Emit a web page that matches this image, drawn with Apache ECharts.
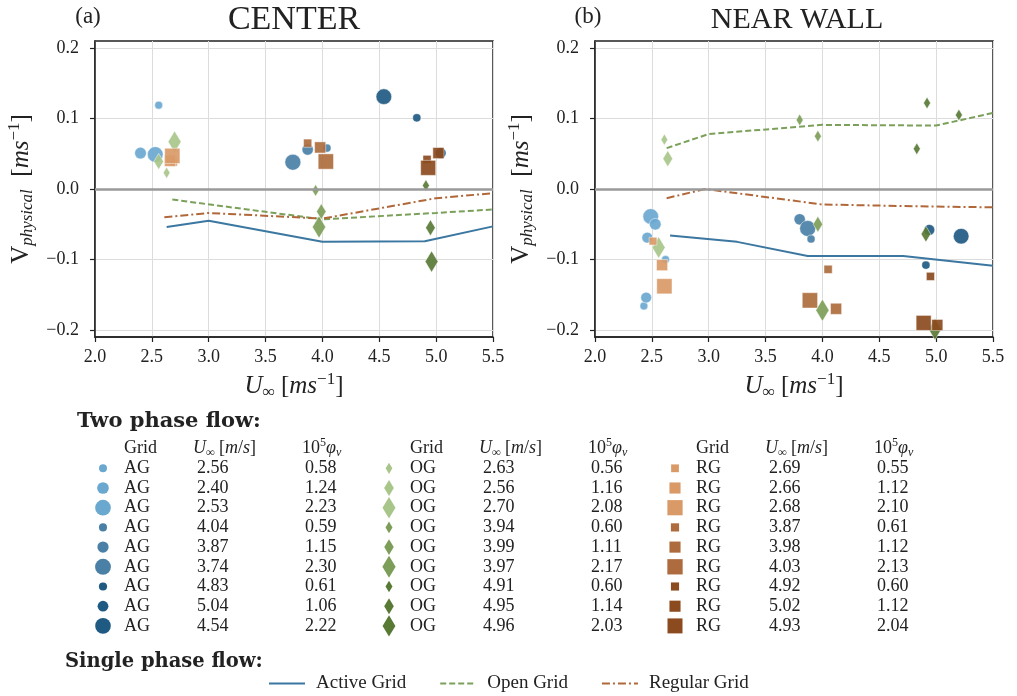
<!DOCTYPE html>
<html>
<head>
<meta charset="utf-8">
<script src="https://cdn.jsdelivr.net/npm/echarts@6/dist/echarts.min.js"></script>
<style>html,body{margin:0;padding:0;background:#fff}#main{width:1017px;height:696px}</style>
</head>
<body>
<div id="main"></div>
<script>
// velocity vs free stream speed, centre and near wall
var serif = '"Liberation Serif", "DejaVu Serif", serif';
var boldFont = '"DejaVu Serif", serif';

var yTicks = [-0.2, -0.1, 0.0, 0.1, 0.2];

// two phase flow table (U, 1e5*phi)
var agU = [2.56, 2.40, 2.53, 4.04, 3.87, 3.74, 4.83, 5.04, 4.54];
var agPhi = [0.58, 1.24, 2.23, 0.59, 1.15, 2.30, 0.61, 1.06, 2.22];
var ogU = [2.63, 2.56, 2.70, 3.94, 3.99, 3.97, 4.91, 4.95, 4.96];
var ogPhi = [0.56, 1.16, 2.08, 0.60, 1.11, 2.17, 0.60, 1.14, 2.03];
var rgU = [2.69, 2.66, 2.68, 3.87, 3.98, 4.03, 4.92, 5.02, 4.93];
var rgPhi = [0.55, 1.12, 2.10, 0.61, 1.12, 2.13, 0.60, 1.12, 2.04];

// (a) centre: V for each table row
var centerAGV = [0.119, 0.051, 0.049, 0.058, 0.056, 0.038, 0.101, 0.051, 0.131];
var centerOGV = [0.023, 0.039, 0.067, -0.002, -0.032, -0.054, 0.005, -0.055, -0.103];
var centerRGV = [0.038, 0.040, 0.047, 0.065, 0.059, 0.039, 0.042, 0.051, 0.030];

// (b) near wall: [U, V, phi]
var wallAG = [[2.43, -0.166, 0.58], [2.45, -0.154, 1.06], [2.46, -0.069, 1.06], [2.62, -0.100, 0.58],
              [2.49, -0.039, 2.23], [2.53, -0.050, 1.24], [3.80, -0.043, 1.15], [3.87, -0.056, 2.30],
              [3.90, -0.071, 0.59], [4.94, -0.058, 1.06], [4.91, -0.108, 0.61], [5.22, -0.067, 2.22]];
var wallOG = [[2.61, 0.070, 0.56], [2.64, 0.043, 1.16], [2.56, -0.083, 2.08], [3.80, 0.098, 0.60],
              [3.96, 0.075, 0.60], [3.96, -0.050, 1.11], [4.00, -0.172, 2.17], [4.92, 0.122, 0.60],
              [4.83, 0.057, 0.60], [5.20, 0.105, 0.60], [4.91, -0.064, 1.14], [4.99, -0.199, 2.03]];
var wallRG = [[2.51, -0.074, 0.55], [2.59, -0.108, 1.12], [2.61, -0.138, 2.10], [4.05, -0.114, 0.61],
              [3.89, -0.158, 2.13], [4.12, -0.170, 1.12], [4.95, -0.124, 0.60], [4.89, -0.190, 2.04],
              [5.01, -0.193, 1.12]];

// single phase flow
var centerLineAG = [[2.63, -0.054], [3.0, -0.045], [4.0, -0.075], [4.9, -0.074], [5.5, -0.053]];
var centerLineOG = [[2.68, -0.015], [4.0, -0.043], [5.0, -0.034], [5.5, -0.029]];
var centerLineRG = [[2.61, -0.040], [3.0, -0.034], [4.0, -0.042], [5.0, -0.013], [5.5, -0.006]];
var wallLineAG = [[2.66, -0.066], [3.25, -0.075], [3.87, -0.095], [4.71, -0.095], [5.5, -0.109]];
var wallLineOG = [[2.63, 0.058], [3.0, 0.078], [4.0, 0.091], [5.0, 0.090], [5.5, 0.108]];
var wallLineRG = [[2.63, -0.013], [2.97, 0.0], [4.0, -0.022], [5.0, -0.025], [5.5, -0.026]];

var palette = {
  AG: ['#6ba8d0', '#4a80a6', '#1f5a82'],
  OG: ['#a9c68a', '#7d9e58', '#587a35'],
  RG: ['#d99a68', '#ae6c3e', '#8b4b1e']
};
var lineColor = {AG: '#3b77a0', OG: '#7ba05a', RG: '#b0683a'};
var symbols = {AG: 'circle', OG: 'diamond', RG: 'rect'};

function shade(u) { return u < 3.3 ? 0 : (u < 4.5 ? 1 : 2); }
function markSize(kind, phi) {
  var k = Math.sqrt(phi);
  if (kind === 'OG') return [9 * k, 15 * k];
  return 10.5 * k;
}
function zip(u, v, phi) {
  return u.map(function (x, i) { return [x, v[i], phi[i]]; });
}

function scatter(kind, data, gi) {
  return {
    type: 'scatter', xAxisIndex: gi, yAxisIndex: gi, data: data,
    symbol: symbols[kind],
    symbolSize: function (v) { return markSize(kind, v[2]); },
    itemStyle: {
      color: function (p) { return palette[kind][shade(p.value[0])]; },
      opacity: 0.92, borderColor: '#fff', borderWidth: 0.5
    },
    z: 4
  };
}
function line(name, kind, data, gi, dash, zero) {
  var s = {
    type: 'line', name: name, xAxisIndex: gi, yAxisIndex: gi, data: data,
    symbol: 'none', lineStyle: {color: lineColor[kind], width: 2, type: dash},
    itemStyle: {color: lineColor[kind]}, z: 3
  };
  if (zero) {
    s.markLine = {
      silent: true, symbol: 'none', label: {show: false},
      lineStyle: {color: '#9a9a9a', width: 2.5, type: 'solid'},
      data: [{yAxis: 0}]
    };
  }
  return s;
}

var supSub = {
  i: {fontStyle: 'italic', fontFamily: serif, fontSize: 25, lineHeight: 30},
  n: {fontFamily: serif, fontSize: 25, lineHeight: 30},
  s: {fontStyle: 'italic', fontFamily: serif, fontSize: 17, verticalAlign: 'bottom', lineHeight: 17},
  p: {fontFamily: serif, fontSize: 17, verticalAlign: 'top', lineHeight: 17}
};

function xAxis(gi) {
  return {
    type: 'value', gridIndex: gi, min: 2, max: 5.5, interval: 0.5,
    name: '{i|U}{s|∞}{n| [}{i|ms}{p|−1}{n|]}', nameLocation: 'middle', nameGap: 34,
    nameTextStyle: {color: '#222', rich: supSub},
    axisLine: {onZero: false, lineStyle: {color: '#222', width: 1.5}},
    axisTick: {show: true, length: 5, lineStyle: {color: '#222', width: 1.2}},
    axisLabel: {margin: 11, color: '#222', fontFamily: serif, fontSize: 18,
                formatter: function (v) { return v.toFixed(1); }},
    splitLine: {show: true, lineStyle: {color: '#dcdcdc', width: 1}}
  };
}
function yAxis(gi) {
  return {
    type: 'value', gridIndex: gi, min: -0.21, max: 0.21,
    name: '{n|V}{s|physical}{n|  [}{i|ms}{p|−1}{n|]}', nameLocation: 'middle', nameRotate: 90, nameGap: 59,
    nameTextStyle: {color: '#222', rich: supSub},
    axisLine: {onZero: false, lineStyle: {color: '#222', width: 1.5}},
    axisTick: {show: true, length: 5, customValues: yTicks, lineStyle: {color: '#222', width: 1.2}},
    axisLabel: {margin: 16, color: '#222', fontFamily: serif, fontSize: 18, customValues: yTicks,
                formatter: function (v) { return (v < -1e-9 ? '−' : '') + Math.abs(v).toFixed(1); }},
    splitLine: {show: true, lineStyle: {color: '#dcdcdc', width: 1}}
  };
}

// text helpers for titles and the table
var gfx = [];
function label(x, y, text, size, align, extra) {
  var st = {text: text, fill: '#222', fontFamily: serif, fontSize: size, align: align || 'left',
            verticalAlign: 'middle', lineHeight: 22};
  for (var k in extra) st[k] = extra[k];
  gfx.push({type: 'text', x: x, y: y, style: st, z: 10});
}
var tableRich = {
  i: {fontStyle: 'italic', fontFamily: serif, fontSize: 18, lineHeight: 22},
  s: {fontStyle: 'italic', fontFamily: serif, fontSize: 12, verticalAlign: 'bottom', lineHeight: 13},
  p: {fontFamily: serif, fontSize: 12, verticalAlign: 'top', lineHeight: 13}
};

label(88, 17, '(a)', 23, 'center');
label(294, 20, 'CENTER', 34, 'center', {lineHeight: 36});
label(588, 17, '(b)', 23, 'center');
label(797, 20, 'NEAR WALL', 30, 'center', {lineHeight: 36});
label(77, 422, 'Two phase flow:', 21, 'left', {fontFamily: boldFont, fontWeight: 'bold'});
label(65, 662, 'Single phase flow:', 19.5, 'left', {fontFamily: boldFont, fontWeight: 'bold'});

var groups = [
  {kind: 'AG', u: agU, phi: agPhi},
  {kind: 'OG', u: ogU, phi: ogPhi},
  {kind: 'RG', u: rgU, phi: rgPhi}
];
groups.forEach(function (g, gi) {
  var x0 = 103 + 286 * gi;
  label(x0 + 21, 448, 'Grid', 18);
  label(x0 + 90, 448, '{i|U}{s|∞} [{i|m}/{i|s}]', 18, 'left', {rich: tableRich});
  label(x0 + 199, 448, '10{p|5}{i|φ}{s|v}', 18, 'left', {rich: tableRich});
  g.u.forEach(function (u, i) {
    var y = 468.3 + 19.7 * i;
    var col = palette[g.kind][shade(u)];
    var sz = markSize(g.kind, g.phi[i]);
    if (g.kind === 'AG') {
      gfx.push({type: 'circle', shape: {cx: x0, cy: y, r: sz / 2}, style: {fill: col}});
    } else if (g.kind === 'RG') {
      gfx.push({type: 'rect', shape: {x: x0 - sz / 2, y: y - sz / 2, width: sz, height: sz}, style: {fill: col}});
    } else {
      var w = sz[0] / 2, h = sz[1] / 2;
      gfx.push({type: 'polygon', shape: {points: [[x0, y - h], [x0 + w, y], [x0, y + h], [x0 - w, y]]}, style: {fill: col}});
    }
    label(x0 + 21, y, g.kind, 18);
    label(x0 + 94, y, u.toFixed(2), 18);
    label(x0 + 202, y, g.phi[i].toFixed(2), 18);
  });
});

var myChart = echarts.init(document.getElementById('main'));
var option = {
  backgroundColor: '#fff',
  animation: false,
  grid: [
    {left: 95, top: 41, width: 398, height: 296, show: true, borderColor: '#222', borderWidth: 1.5},
    {left: 595, top: 41, width: 398, height: 296, show: true, borderColor: '#222', borderWidth: 1.5}
  ],
  xAxis: [xAxis(0), xAxis(1)],
  yAxis: [yAxis(0), yAxis(1)],
  legend: {
    left: 263, top: 669, itemWidth: 36, itemHeight: 14, itemGap: 33,
    data: ['Active Grid', 'Open Grid', 'Regular Grid'],
    itemStyle: {opacity: 0, borderWidth: 0},
    textStyle: {fontFamily: serif, fontSize: 19, color: '#222', padding: [0, 0, 0, 6]}
  },
  graphic: gfx,
  series: [
    line('Active Grid', 'AG', centerLineAG, 0, 'solid', true),
    line('Open Grid', 'OG', centerLineOG, 0, [6, 3]),
    line('Regular Grid', 'RG', centerLineRG, 0, [8, 3, 2, 3]),
    line('Active Grid', 'AG', wallLineAG, 1, 'solid', true),
    line('Open Grid', 'OG', wallLineOG, 1, [6, 3]),
    line('Regular Grid', 'RG', wallLineRG, 1, [8, 3, 2, 3]),
    scatter('AG', zip(agU, centerAGV, agPhi), 0),
    scatter('OG', zip(ogU, centerOGV, ogPhi), 0),
    scatter('RG', zip(rgU, centerRGV, rgPhi), 0),
    scatter('AG', wallAG, 1),
    scatter('OG', wallOG, 1),
    scatter('RG', wallRG, 1)
  ]
};
myChart.setOption(option);
</script>
</body>
</html>
